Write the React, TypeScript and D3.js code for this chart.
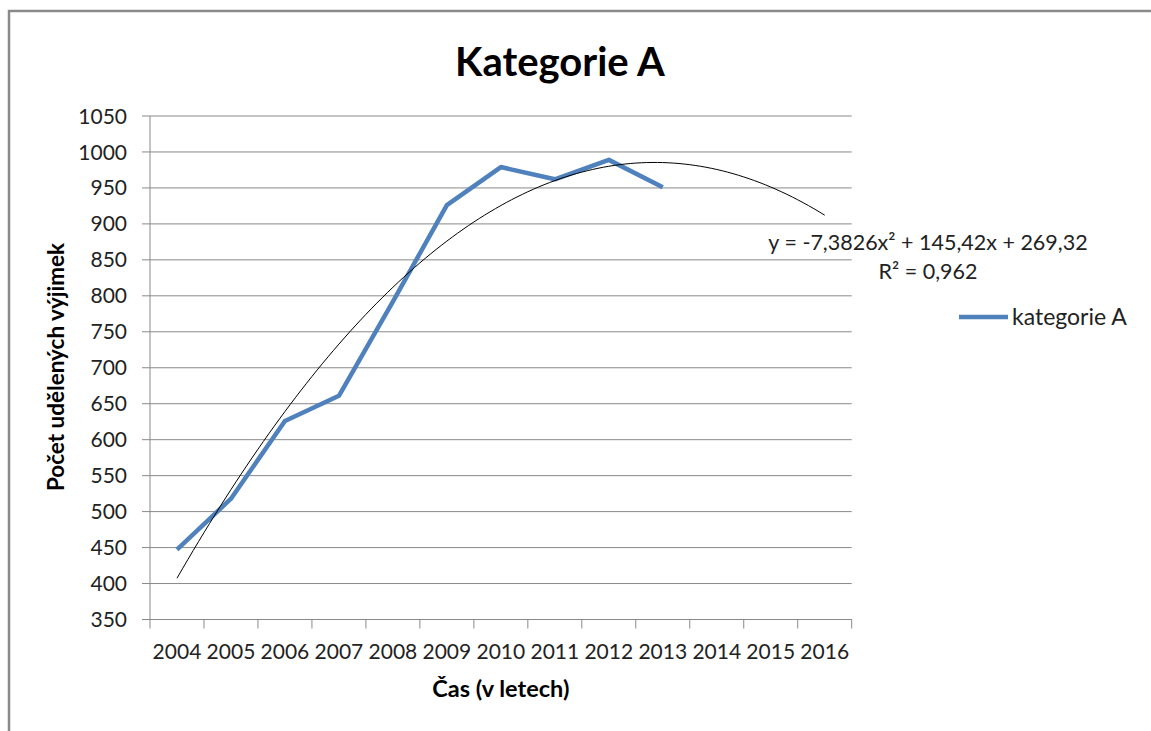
import React from "react";
import * as d3 from "d3";

// category labels (years on the x axis)
const years = ["2004", "2005", "2006", "2007", "2008", "2009", "2010", "2011", "2012", "2013", "2014", "2015", "2016"];

// series "kategorie A" (only 2004-2013 have values)
const seriesYears = ["2004", "2005", "2006", "2007", "2008", "2009", "2010", "2011", "2012", "2013"];
const seriesValues = [447, 518, 626, 661, 792, 926, 979, 962, 989, 951];

// y axis ticks
const yTicks = [350, 400, 450, 500, 550, 600, 650, 700, 750, 800, 850, 900, 950, 1000, 1050];

// polynomial trendline coefficients as printed on the chart
const trendA = -7.3826;
const trendB = 145.42;
const trendC = 269.32;
const trendLabel = "y = -7,3826x² + 145,42x + 269,32";
const r2Label = "R² = 0,962";

const W = 1151;
const H = 731;
const FONT = "Lato, 'Open Sans', sans-serif";
const BLUE = "#4F81BD";
const GRID = "#898989";

export default function App() {
  // plot area
  const left = 150, right = 851.7, top = 116, bottom = 619.5;

  const x = d3.scaleBand().domain(years).range([left, right]).padding(0);
  const bw = x.bandwidth();
  const cx = (d: string) => (x(d) as number) + bw / 2;

  const y = d3.scaleLinear().domain([350, 1050]).range([bottom, top]);

  // trendline in category index space (1..13)
  const xi = d3.scaleLinear().domain([1, years.length]).range([cx(years[0]), cx(years[years.length - 1])]);
  const trendPts: [number, number][] = d3.range(1, years.length + 0.001, 0.1).map((t) => [
    xi(t),
    y(trendA * t * t + trendB * t + trendC),
  ]);
  const trendPath = d3.line()(trendPts) as string;

  const seriesPath = d3
    .line<number>()
    .x((_, i) => cx(seriesYears[i]))
    .y((d) => y(d))(seriesValues) as string;

  const edges = years.map((d) => x(d) as number).concat([right]);

  return (
    <svg width={W} height={H} style={{ position: "absolute", left: 0, top: 0, background: "#fff" }} fontFamily={FONT}>
      <rect x={0} y={0} width={W} height={H} fill="#fff" />
      {/* chart area border */}
      <path d={`M9,${H + 5} L9,11 L${W + 5},11`} fill="none" stroke="#8a8a8a" strokeWidth={2.5} />

      {/* title */}
      <text x={560} y={76} textAnchor="middle" fontSize={40} fontWeight="bold" fill="#000">
        Kategorie A
      </text>

      {/* gridlines */}
      {yTicks.map((t) => (
        <line key={t} x1={left - 8} x2={right} y1={y(t)} y2={y(t)} stroke={GRID} strokeWidth={1} />
      ))}

      {/* y axis */}
      <line x1={left} x2={left} y1={top} y2={bottom} stroke={GRID} strokeWidth={1} />
      {yTicks.map((t) => (
        <text key={t} x={127} y={y(t)} dy="0.36em" textAnchor="end" fontSize={21} fill="#222">
          {t}
        </text>
      ))}

      {/* x axis */}
      <line x1={left} x2={right} y1={bottom} y2={bottom} stroke={GRID} strokeWidth={1} />
      {edges.map((e, i) => (
        <line key={i} x1={e} x2={e} y1={bottom} y2={bottom + 9} stroke={GRID} strokeWidth={1} />
      ))}
      {years.map((d) => (
        <text key={d} x={cx(d)} y={659} textAnchor="middle" fontSize={21} fill="#222">
          {d}
        </text>
      ))}

      {/* axis titles */}
      <text x={(left + right) / 2} y={697} textAnchor="middle" fontSize={23.5} fontWeight="bold" fill="#000">
        Čas (v letech)
      </text>
      <text
        transform="translate(64,367) rotate(-90)"
        textAnchor="middle"
        fontSize={22.5}
        fontWeight="bold"
        fill="#000"
      >
        Počet udělených výjimek
      </text>

      {/* series */}
      <path d={seriesPath} fill="none" stroke={BLUE} strokeWidth={4.5} strokeLinejoin="round" />

      {/* trendline */}
      <path d={trendPath} fill="none" stroke="#000" strokeWidth={1} />
      <text x={928} y={250} textAnchor="middle" fontSize={21.5} fill="#222">
        {trendLabel}
      </text>
      <text x={928} y={279} textAnchor="middle" fontSize={21.5} fill="#222">
        {r2Label}
      </text>

      {/* legend */}
      <line x1={959} x2={1008} y1={317} y2={317} stroke={BLUE} strokeWidth={4.5} />
      <text x={1012} y={325} fontSize={23} fill="#222">
        kategorie A
      </text>
    </svg>
  );
}
